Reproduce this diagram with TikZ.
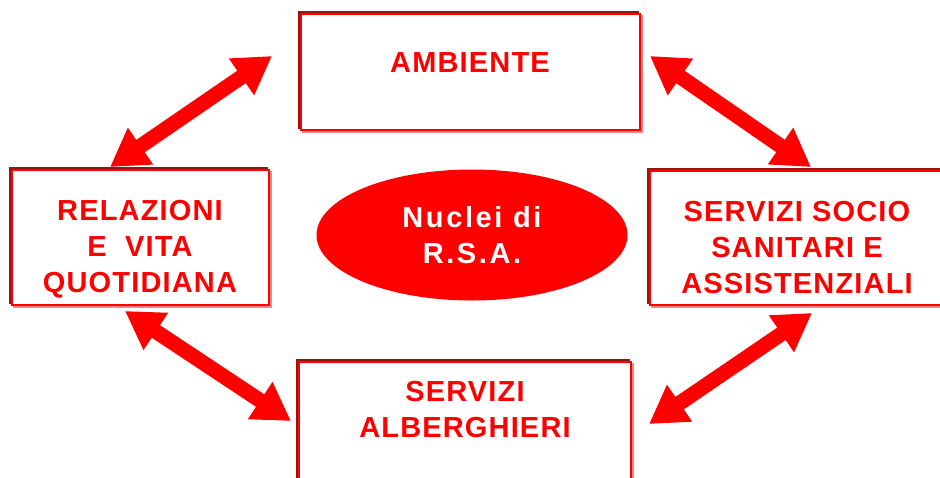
\documentclass[tikz,border=0pt]{standalone}
\usepackage{fontspec}
\setmainfont{Liberation Sans}[LetterSpace=4]
\usetikzlibrary{arrows.meta,calc,shapes.geometric}
\definecolor{rsared}{RGB}{255,0,0}
\definecolor{rsadark}{RGB}{150,20,20}
\definecolor{rsapink}{RGB}{255,130,130}
\tikzset{
  boxframe/.style={draw=rsared, line width=2.4pt, fill=white, rectangle, inner sep=0pt},
  boxtext/.style={text=rsared, font=\fontsize{29}{36}\selectfont\bfseries, align=center},
  bigarrow/.style={draw=rsared, line width=15pt,
     {Triangle[length=37pt,width=42pt]}-{Triangle[length=37pt,width=42pt]}},
}
\newcommand{\frbox}[5]{% name, x1, y1, x2, y2
  \draw[rsadark, line width=1.3pt] (#2-2,#3-2) rectangle (#4-2,#5-2);
  \draw[rsapink, line width=1.3pt] (#2+2,#3+2) rectangle (#4+2,#5+2);
  \node[boxframe, minimum width=#4-#2, minimum height=#5-#3] (#1) at ({(#2+#4)/2},{(#3+#5)/2}) {};
}
\begin{document}
\begin{tikzpicture}[x=1pt,y=-1pt]
\useasboundingbox (0,0) rectangle (940,477);
\fill[white] (0,0) rectangle (940,477);

\frbox{amb}{301}{14}{640}{130}
\frbox{rel}{12}{170}{269}{305}
\frbox{soc}{650}{171}{945}{305}
\frbox{alb}{299}{362}{631}{495}

\node[boxtext] (tamb) at (470,63) {AMBIENTE};
\node[boxtext] (trel) at (140,249) {RELAZIONI\\E\ \ VITA\\QUOTIDIANA};
\node[boxtext] (tsoc) at (797,248) {SERVIZI SOCIO\\SANITARI E\\ASSISTENZIALI};
\node[boxtext] (talb) at (465,410) {SERVIZI\\ALBERGHIERI};

\node[ellipse, fill=rsared, minimum width=311pt, minimum height=131pt, inner sep=0pt,
      text=white, font=\fontsize{29}{36}\selectfont\bfseries\addfontfeatures{LetterSpace=9}, align=center] (nuc) at (472,235) {Nuclei di\\R.S.A.};

\coordinate (p1) at (272,56);
\coordinate (p2) at (110,167);
\coordinate (p3) at (650,56);
\coordinate (p4) at (811,167);
\coordinate (p5) at (125,311);
\coordinate (p6) at (291,421);
\coordinate (p7) at (812,313);
\coordinate (p8) at (649,424);

\draw[bigarrow] (p1) -- (p2);
\draw[bigarrow] (p3) -- (p4);
\draw[bigarrow] (p5) -- (p6);
\draw[bigarrow] (p7) -- (p8);
\end{tikzpicture}
\end{document}
